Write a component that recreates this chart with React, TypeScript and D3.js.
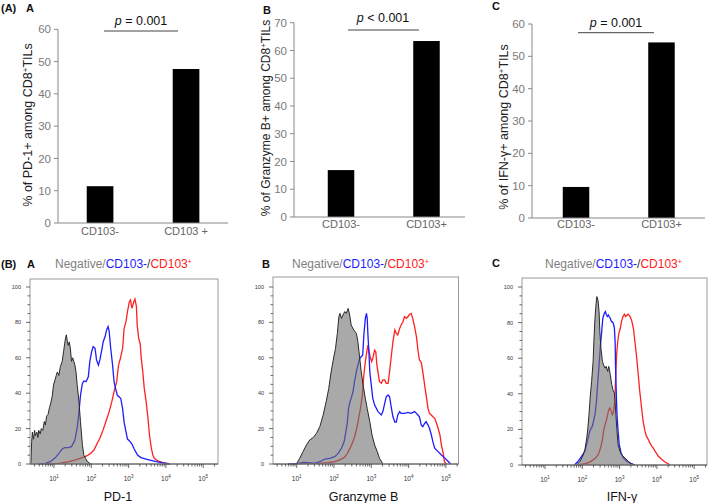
import React from 'react';
import * as d3 from 'd3';

// ---------- Bar chart data (top row) ----------
const categoriesA = ['CD103-', 'CD103 +'];
const categoriesBC = ['CD103-', 'CD103+'];
const pd1Percent = [11.4, 47.7];
const grzbPercent = [16.9, 63.4];
const ifngPercent = [9.6, 54.3];
const pd1Ticks = [0, 10, 20, 30, 40, 50, 60];
const grzbTicks = [0, 10, 20, 30, 40, 50, 60, 70];
const ifngTicks = [0, 10, 20, 30, 40, 50, 60];
const pTexts = ['= 0.001', '< 0.001', '= 0.001'];

// ---------- Histogram data (bottom row): [log10 intensity, % of max] ----------
const decadeTicks = [1, 2, 3, 4, 5];
const percentTicks = [0, 20, 40, 60, 80, 100];

const pd1Negative: [number, number][] = [
  [0.38, 0], [0.40, 12], [0.42, 18], [0.45, 14], [0.48, 19], [0.50, 16], [0.54, 18], [0.57, 15],
  [0.59, 19], [0.63, 17], [0.66, 20], [0.70, 19], [0.74, 24], [0.77, 22], [0.80, 27], [0.84, 28],
  [0.88, 32], [0.92, 35], [0.95, 38], [0.99, 45], [1.02, 47], [1.06, 50], [1.09, 52], [1.13, 50],
  [1.17, 55], [1.22, 58], [1.26, 64], [1.30, 70], [1.33, 73], [1.36, 69], [1.38, 67], [1.41, 69],
  [1.44, 65], [1.47, 58], [1.50, 60], [1.53, 58], [1.56, 56], [1.59, 52], [1.62, 45], [1.67, 35],
  [1.71, 24], [1.76, 11], [1.80, 5], [1.85, 3], [1.89, 1.5], [1.95, 0.5], [2.0, 0],
];
const pd1CD103Neg: [number, number][] = [
  [0.59, 0], [0.77, 0.4], [0.90, 1.3], [1.04, 3.6], [1.13, 6.0], [1.22, 8.5], [1.29, 9.2], [1.38, 9.2],
  [1.47, 9.8], [1.56, 13.6], [1.62, 20.2], [1.67, 29.6], [1.71, 38.8], [1.76, 45.4], [1.80, 46.9],
  [1.86, 46.5], [1.92, 49.3], [1.96, 57.8], [2.01, 63.5], [2.05, 66.3], [2.10, 65.4], [2.14, 58.8],
  [2.19, 55.9], [2.23, 58.8], [2.28, 64.4], [2.32, 69.1], [2.37, 72.0], [2.41, 75.7], [2.45, 77.6],
  [2.48, 74.8], [2.52, 65.4], [2.57, 56.0], [2.61, 46.5], [2.66, 41.8], [2.70, 38.8], [2.75, 37.9],
  [2.79, 37.0], [2.84, 31.1], [2.88, 23.5], [2.93, 18.1], [2.97, 14.1], [3.02, 13.2], [3.09, 11.3],
  [3.15, 8.5], [3.24, 5.1], [3.33, 3.6], [3.47, 2.8], [3.60, 2.1], [3.74, 1.3], [3.92, 0.6], [4.10, 0],
];
const pd1CD103Pos: [number, number][] = [
  [0.77, 0], [1.13, 0.4], [1.40, 1.3], [1.58, 2.3], [1.76, 3.6], [1.89, 4.7], [1.98, 6.0], [2.07, 7.9],
  [2.16, 11.7], [2.23, 14.5], [2.30, 18.3], [2.39, 23.9], [2.48, 29.6], [2.55, 35.2], [2.61, 40.9],
  [2.68, 46.5], [2.73, 55.9], [2.78, 59.7], [2.84, 65.4], [2.88, 76.7], [2.93, 80.4], [2.97, 86.1],
  [3.02, 91.7], [3.05, 92.7], [3.09, 88.0], [3.14, 91.7], [3.17, 93.2], [3.21, 88.9], [3.23, 78.5],
  [3.27, 71.0], [3.31, 68.1], [3.34, 59.7], [3.38, 52.2], [3.42, 42.7], [3.47, 35.2], [3.52, 25.8],
  [3.56, 16.4], [3.61, 8.9], [3.65, 5.1], [3.69, 3.2], [3.78, 1.7], [3.92, 0.8], [4.10, 0],
];

const grzbNegative: [number, number][] = [
  [0.99, 0], [1.08, 3.2], [1.17, 7.0], [1.26, 10.7], [1.35, 13.6], [1.44, 14.9], [1.53, 17.3],
  [1.62, 21.1], [1.71, 27.7], [1.79, 35.2], [1.86, 42.7], [1.91, 50.3], [1.97, 57.8], [2.04, 65.3],
  [2.09, 73.8], [2.13, 83.2], [2.16, 85.1], [2.20, 82.3], [2.24, 84.2], [2.29, 86.1], [2.33, 85.1],
  [2.38, 87.9], [2.42, 84.2], [2.46, 78.5], [2.53, 75.7], [2.60, 73.8], [2.64, 69.1], [2.69, 59.7],
  [2.73, 52.2], [2.78, 44.6], [2.84, 37.1], [2.89, 31.4], [2.96, 23.9], [3.02, 16.4], [3.09, 10.7],
  [3.16, 7.0], [3.22, 3.2], [3.31, 0],
];
const grzbCD103Neg: [number, number][] = [
  [0.77, 0], [1.04, 0.4], [1.17, 0.9], [1.30, 0.8], [1.48, 0.4], [1.62, 1.3], [1.75, 2.8], [1.88, 3.2],
  [2.02, 4.1], [2.11, 6.0], [2.20, 8.9], [2.27, 12.6], [2.32, 18.3], [2.36, 23.9], [2.39, 31.4],
  [2.43, 35.2], [2.46, 37.1], [2.51, 40.9], [2.55, 46.5], [2.60, 52.2], [2.64, 55.9], [2.69, 59.7],
  [2.73, 60.6], [2.77, 61.6], [2.80, 72.9], [2.84, 82.3], [2.87, 85.1], [2.89, 82.3], [2.91, 72.9],
  [2.94, 61.6], [2.96, 52.2], [3.00, 44.6], [3.04, 37.1], [3.09, 33.3], [3.18, 29.6], [3.27, 27.7],
  [3.31, 29.6], [3.36, 34.3], [3.40, 38.0], [3.45, 39.0], [3.49, 38.0], [3.54, 31.4], [3.58, 26.7],
  [3.63, 23.7], [3.67, 23.7], [3.71, 27.7], [3.76, 29.6], [3.80, 28.6], [3.89, 28.6], [3.98, 29.2],
  [4.07, 28.6], [4.16, 29.6], [4.21, 28.6], [4.25, 27.7], [4.29, 26.7], [4.34, 22.0], [4.38, 21.1],
  [4.43, 22.9], [4.47, 23.9], [4.52, 22.0], [4.56, 20.2], [4.61, 16.4], [4.65, 12.6], [4.70, 8.9],
  [4.79, 7.0], [4.88, 5.1], [4.96, 3.6], [5.05, 1.7], [5.13, 0],
];
const grzbCD103Pos: [number, number][] = [
  [0.86, 0], [1.04, 0.2], [1.30, 0.4], [1.57, 0.4], [1.84, 0.8], [2.02, 1.3], [2.15, 2.3], [2.27, 3.6],
  [2.36, 6.0], [2.45, 9.8], [2.54, 14.5], [2.60, 19.2], [2.66, 25.8], [2.71, 31.4], [2.76, 38.9],
  [2.80, 50.3], [2.84, 57.8], [2.88, 63.5], [2.91, 67.2], [2.94, 63.5], [2.97, 60.6], [3.01, 57.8],
  [3.04, 59.7], [3.09, 64.4], [3.12, 63.5], [3.15, 56.0], [3.19, 50.3], [3.22, 46.5], [3.27, 45.6],
  [3.31, 47.5], [3.36, 47.5], [3.40, 45.6], [3.45, 45.6], [3.49, 52.2], [3.54, 61.6], [3.58, 69.1],
  [3.63, 75.7], [3.67, 73.8], [3.71, 72.9], [3.76, 76.6], [3.80, 78.5], [3.85, 80.4], [3.89, 83.2],
  [3.94, 82.3], [3.98, 83.2], [4.03, 84.6], [4.07, 85.1], [4.11, 82.3], [4.16, 77.6], [4.21, 72.0],
  [4.25, 64.4], [4.29, 58.8], [4.34, 57.4], [4.38, 52.2], [4.43, 44.6], [4.47, 38.9], [4.52, 31.4],
  [4.56, 28.6], [4.61, 27.7], [4.65, 26.7], [4.70, 25.8], [4.75, 22.9], [4.79, 20.2], [4.84, 16.4],
  [4.88, 10.7], [4.93, 5.9], [4.96, 1.3], [5.01, 0],
];

const ifngNegative: [number, number][] = [
  [1.85, 0], [1.94, 2.1], [2.01, 4.9], [2.07, 8.7], [2.12, 15.2], [2.15, 20.8], [2.18, 28.3],
  [2.21, 37.6], [2.25, 47.0], [2.29, 58.2], [2.31, 69.4], [2.34, 82.4], [2.37, 90.8], [2.39, 94.6],
  [2.42, 92.7], [2.45, 86.2], [2.47, 75.0], [2.50, 65.6], [2.54, 58.2], [2.57, 56.3], [2.61, 54.4],
  [2.64, 55.4], [2.68, 52.6], [2.71, 55.4], [2.75, 50.7], [2.79, 45.1], [2.82, 42.3], [2.86, 40.4],
  [2.88, 35.7], [2.90, 28.3], [2.93, 19.0], [2.96, 11.5], [3.01, 7.7], [3.05, 5.9], [3.14, 4.0],
  [3.23, 2.1], [3.32, 0.7], [3.41, 0],
];
const ifngCD103Neg: [number, number][] = [
  [1.79, 0], [1.89, 2.1], [1.98, 4.9], [2.07, 7.7], [2.14, 13.4], [2.20, 19.0], [2.23, 20.4],
  [2.27, 21.8], [2.30, 24.6], [2.34, 28.3], [2.38, 35.8], [2.41, 45.1], [2.45, 56.3], [2.48, 65.6],
  [2.52, 75.0], [2.55, 82.4], [2.59, 85.2], [2.62, 86.2], [2.64, 84.7], [2.67, 83.4], [2.70, 84.3],
  [2.72, 83.4], [2.75, 82.4], [2.78, 80.6], [2.80, 80.6], [2.83, 79.7], [2.86, 76.9], [2.88, 69.4],
  [2.89, 56.3], [2.91, 41.4], [2.93, 28.3], [2.96, 19.0], [2.99, 11.5], [3.04, 6.8], [3.10, 4.0],
  [3.19, 2.1], [3.28, 1.0], [3.41, 0],
];
const ifngCD103Pos: [number, number][] = [
  [1.89, 0], [2.07, 0.7], [2.21, 1.8], [2.34, 3.6], [2.43, 5.9], [2.49, 9.6], [2.54, 14.3],
  [2.57, 19.0], [2.61, 22.7], [2.64, 24.6], [2.68, 28.3], [2.71, 31.1], [2.73, 32.0], [2.76, 31.1],
  [2.79, 29.2], [2.81, 28.3], [2.84, 30.2], [2.87, 35.8], [2.89, 47.0], [2.92, 61.9], [2.95, 69.4],
  [2.98, 74.0], [3.02, 76.8], [3.05, 80.6], [3.09, 83.4], [3.13, 84.7], [3.16, 83.4], [3.20, 84.3],
  [3.23, 84.7], [3.28, 83.4], [3.32, 81.5], [3.37, 76.8], [3.41, 69.4], [3.46, 60.0], [3.50, 50.7],
  [3.54, 41.4], [3.59, 32.0], [3.63, 24.6], [3.68, 19.0], [3.72, 16.2], [3.77, 14.3], [3.81, 12.4],
  [3.86, 10.6], [3.90, 9.6], [3.95, 7.8], [4.04, 4.9], [4.13, 3.1], [4.21, 1.8], [4.30, 0.7], [4.35, 0],
];

const FONT = '"Liberation Sans", Arial, Helvetica, sans-serif';
const RED = '#ff2020';
const BLUE = '#1c1cff';

type BarProps = {
  cats: string[];
  values: number[];
  ticks: number[];
  axisX: number;
  axisEnd: number;
  y0: number;
  yTop: number;
  bandStart: number;
  bandEnd: number;
  pText: string;
  pLine: [number, number, number];
  pPos: [number, number];
  catY: number;
  label: string;
  labelPos: [number, number];
  labelSize: number;
};

function BarPanel(p: BarProps) {
  const yMax = p.ticks[p.ticks.length - 1];
  const y = d3.scaleLinear().domain([0, yMax]).range([p.y0, p.yTop]);
  const x = d3.scaleBand<string>().domain(p.cats).range([p.bandStart, p.bandEnd]).paddingInner(0.69).paddingOuter(0.34);
  return (
    <g fontFamily={FONT}>
      {p.cats.map((c, i) => (
        <rect key={c} x={x(c)} y={y(p.values[i])} width={x.bandwidth()} height={p.y0 - y(p.values[i])} fill="#000" />
      ))}
      <line x1={p.axisX} x2={p.axisX} y1={p.y0} y2={p.yTop} stroke="#888" strokeWidth={1} />
      <line x1={p.axisX} x2={p.axisEnd} y1={p.y0} y2={p.y0} stroke="#888" strokeWidth={1} />
      {p.ticks.map((t) => (
        <g key={t}>
          <line x1={p.axisX - 4} x2={p.axisX} y1={y(t)} y2={y(t)} stroke="#888" />
          <text x={p.axisX - 7} y={y(t)} dy="0.36em" textAnchor="end" fontSize={11.5} fill="#7a7a7a">{t}</text>
        </g>
      ))}
      {p.cats.map((c) => (
        <text key={c} x={(x(c) as number) + x.bandwidth() / 2} y={p.catY} textAnchor="middle" fontSize={11} fill="#666">{c}</text>
      ))}
      <line x1={p.pLine[0]} x2={p.pLine[1]} y1={p.pLine[2]} y2={p.pLine[2]} stroke="#444" strokeWidth={1} />
      <text x={p.pPos[0]} y={p.pPos[1]} textAnchor="middle" fontSize={12.5} fill="#111">
        <tspan fontStyle="italic">p</tspan> {p.pText}
      </text>
      <text transform={`translate(${p.labelPos[0]},${p.labelPos[1]}) rotate(-90)`} textAnchor="middle" fontSize={p.labelSize} fill="#222">
        <tspan>{p.label}</tspan>
        <tspan dy={-4} fontSize={8}>+</tspan>
        <tspan dy={4}>TILs</tspan>
      </text>
    </g>
  );
}

type HistProps = {
  left: number;
  right: number;
  top: number;
  bottom: number;
  x1: number; // pixel for 10^1
  negative: [number, number][];
  cdNeg: [number, number][];
  cdPos: [number, number][];
  xLabel: string;
  xLabelX: number;
};

const DEC = 37.3;

function HistPanel(p: HistProps) {
  const lo = 1 - (p.x1 - p.left) / DEC;
  const hi = 1 + (p.right - p.x1) / DEC;
  const x = d3.scaleLinear().domain([lo, hi]).range([p.left, p.right]);
  const y = d3.scaleLinear().domain([0, 100]).range([p.bottom, 287]);
  const line = d3.line<[number, number]>().x((d) => x(d[0])).y((d) => y(d[1]));
  const area = d3.area<[number, number]>().x((d) => x(d[0])).y0(y(0)).y1((d) => y(d[1]));
  const minor: { v: number; major: boolean }[] = [];
  for (let dd = 0; dd <= 5; dd++) {
    for (let m = 1; m <= 9; m++) {
      const v = dd + Math.log10(m);
      if (v >= lo && v <= hi) minor.push({ v, major: m === 1 });
    }
  }
  const yMinor = d3.range(0, 101, 5);
  return (
    <g fontFamily={FONT}>
      <path d={line(p.cdPos) || ''} fill="none" stroke={RED} strokeWidth={1.3} />
      <path d={line(p.cdNeg) || ''} fill="none" stroke={BLUE} strokeWidth={1.3} />
      <path d={area(p.negative) || ''} fill="#707070" fillOpacity={0.6} stroke="none" />
      <path d={line(p.negative) || ''} fill="none" stroke="#2a2a2a" strokeWidth={1} />
      <rect x={p.left} y={p.top} width={p.right - p.left} height={p.bottom - p.top} fill="none" stroke="#9a9a9a" strokeWidth={1} />
      <line x1={p.left} x2={p.right} y1={p.bottom} y2={p.bottom} stroke="#555" strokeWidth={1} />
      {minor.map((t, i) => (
        <line key={i} x1={x(t.v)} x2={x(t.v)} y1={p.bottom} y2={p.bottom + (t.major ? 4 : 2.5)} stroke="#444" strokeWidth={0.8} />
      ))}
      {yMinor.map((t) => (
        <line key={t} x1={p.left - (t % 20 === 0 ? 4 : 2.5)} x2={p.left} y1={y(t)} y2={y(t)} stroke="#444" strokeWidth={0.8} />
      ))}
      {percentTicks.map((t) => (
        <text key={t} x={p.left - 9} y={y(t)} dy="0.35em" textAnchor="end" fontSize={5.5} fill="#333">{t}</text>
      ))}
      {decadeTicks.map((t) => (
        <text key={t} x={x(t)} y={p.bottom + 17} textAnchor="middle" fontSize={6.5} fill="#333">
          10<tspan dy={-3} fontSize={4.5}>{t}</tspan>
        </text>
      ))}
      <text x={p.xLabelX} y={501} textAnchor="middle" fontSize={12.5} fill="#111">{p.xLabel}</text>
    </g>
  );
}

function Title({ x, y }: { x: number; y: number }) {
  return (
    <text x={x} y={y} fontFamily={FONT} fontSize={12} >
      <tspan fill="#7f7f7f">Negative/</tspan>
      <tspan fill={BLUE}>CD103-</tspan>
      <tspan fill="#333">/</tspan>
      <tspan fill={RED}>CD103</tspan>
      <tspan fill={RED} dy={-4} fontSize={7}>+</tspan>
    </text>
  );
}

export default function App() {
  return (
    <svg width={709} height={503} style={{ position: 'absolute', left: 0, top: 0, background: '#fff' }}>
      <rect x={0} y={0} width={709} height={503} fill="#fff" />
      {/* panel letters */}
      <g fontFamily={FONT} fontWeight="bold" fontSize={11} fill="#111">
        <text x={1} y={12}>(A)</text>
        <text x={26} y={12}>A</text>
        <text x={263} y={14}>B</text>
        <text x={492} y={10}>C</text>
        <text x={1} y={268}>(B)</text>
        <text x={27} y={268}>A</text>
        <text x={262} y={268}>B</text>
        <text x={492} y={267}>C</text>
      </g>
      <BarPanel cats={categoriesA} values={pd1Percent} ticks={pd1Ticks} axisX={58} axisEnd={228} y0={223} yTop={29.3}
        bandStart={57.5} bandEnd={228.6} pText={pTexts[0]} pLine={[104, 178, 31]} pPos={[141, 24.5]} catY={235}
        label="% of PD-1+ among CD8" labelPos={[32, 125]} labelSize={12.5} />
      <BarPanel cats={categoriesBC} values={grzbPercent} ticks={grzbTicks} axisX={294} axisEnd={465} y0={217} yTop={22.7}
        bandStart={298.7} bandEnd={468.8} pText={pTexts[1]} pLine={[348, 419, 30]} pPos={[383, 22]} catY={227.5}
        label="% of Granzyme B+ among CD8" labelPos={[270, 118]} labelSize={12} />
      <BarPanel cats={categoriesBC} values={ifngPercent} ticks={ifngTicks} axisX={532} axisEnd={705} y0={218} yTop={24}
        bandStart={533.7} bandEnd={703.8} pText={pTexts[2]} pLine={[578, 654, 32.7]} pPos={[616, 27]} catY={228}
        label="% of IFN-γ+ among CD8" labelPos={[508, 127]} labelSize={12.5} />

      <Title x={55} y={268} />
      <Title x={292} y={268} />
      <Title x={545} y={268} />

      <HistPanel left={30} right={218} top={279} bottom={464} x1={54} negative={pd1Negative} cdNeg={pd1CD103Neg}
        cdPos={pd1CD103Pos} xLabel="PD-1" xLabelX={118} />
      <HistPanel left={273} right={458.5} top={277} bottom={464} x1={296.7} negative={grzbNegative} cdNeg={grzbCD103Neg}
        cdPos={grzbCD103Pos} xLabel="Granzyme B" xLabelX={363.5} />
      <HistPanel left={522} right={707} top={278} bottom={465} x1={545} negative={ifngNegative} cdNeg={ifngCD103Neg}
        cdPos={ifngCD103Pos} xLabel="IFN-γ" xLabelX={622} />
    </svg>
  );
}
